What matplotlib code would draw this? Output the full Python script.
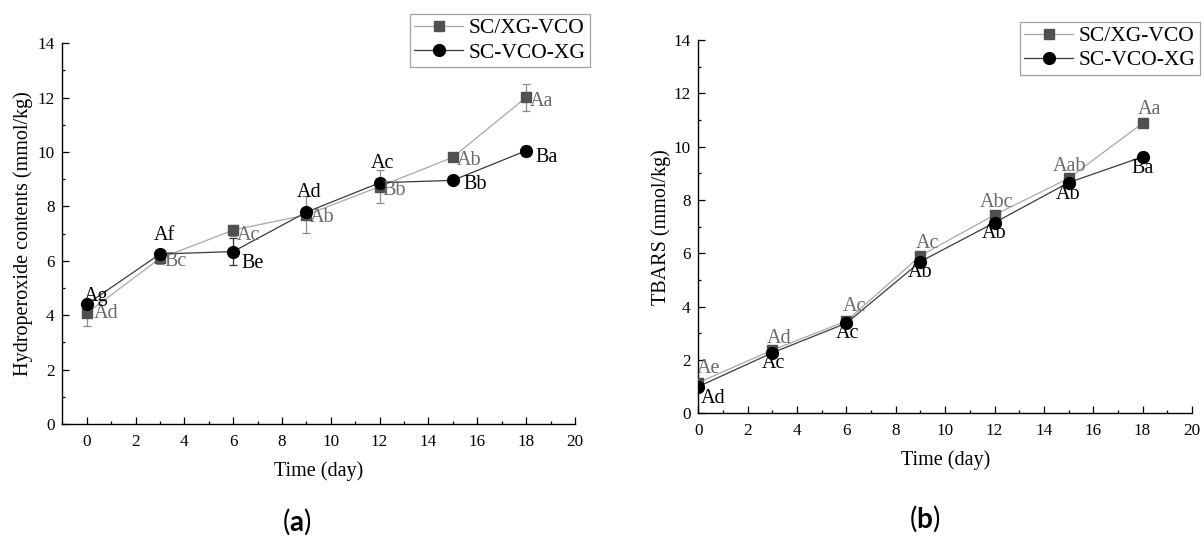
import matplotlib
matplotlib.use("Agg")
import matplotlib.pyplot as plt
from matplotlib.ticker import MultipleLocator
from matplotlib.lines import Line2D

plt.rcParams['font.family'] = ['Liberation Serif', 'DejaVu Serif']
plt.rcParams['mathtext.fontset'] = 'custom'
plt.rcParams['mathtext.bf'] = 'Lato:bold'
plt.rcParams['mathtext.rm'] = 'Lato'

# ---------------- data ----------------
days = [0, 3, 6, 9, 12, 15, 18]
series_names = ['SC/XG-VCO', 'SC-VCO-XG']

# (a) hydroperoxide contents (mmol/kg)
hp_xg_vco = [4.07, 6.09, 7.13, 7.69, 8.73, 9.81, 12.01]
hp_xg_vco_err = [0.45, 0.22, 0.20, 0.68, 0.60, 0.12, 0.50]
hp_vco_xg = [4.40, 6.25, 6.34, 7.79, 8.87, 8.96, 10.05]
hp_vco_xg_err = [0.10, 0.15, 0.50, 0.15, 0.10, 0.15, 0.18]
hp_letters_xg_vco = ['Ad', 'Bc', 'Ac', 'Ab', 'Bb', 'Ab', 'Aa']
hp_letters_vco_xg = ['Ag', 'Af', 'Be', 'Ad', 'Ac', 'Bb', 'Ba']

# (b) TBARS (mmol/kg)
tb_xg_vco = [1.15, 2.37, 3.46, 5.91, 7.44, 8.81, 10.88]
tb_vco_xg = [1.00, 2.27, 3.38, 5.69, 7.15, 8.65, 9.62]
tb_letters_xg_vco = ['Ae', 'Ad', 'Ac', 'Ac', 'Abc', 'Aab', 'Aa']
tb_letters_vco_xg = ['Ad', 'Ac', 'Ac', 'Ab', 'Ab', 'Ab', 'Ba']

# ---------------- style ----------------
GRAY_LINE = '#a8a8a8'
GRAY_MARK = '#505050'
GRAY_TEXT = '#6a6a6a'
DARK_LINE = '#3a3a3a'
LBL_FS = 14.5
PX = 72.0 / 100.0  # pixel -> point

fig = plt.figure(figsize=(12.04, 5.36), dpi=100)
axA = fig.add_axes([0.05174, 0.20896, 0.4258, 0.7103])
axB = fig.add_axes([0.5800, 0.22892, 0.4100, 0.69645])


def style_axes(ax, xlim):
    ax.set_xlim(*xlim)
    ax.set_ylim(0, 14)
    ax.spines['top'].set_visible(False)
    ax.spines['right'].set_visible(False)
    for s in ('left', 'bottom'):
        ax.spines[s].set_linewidth(1.0)
    ax.xaxis.set_major_locator(MultipleLocator(2))
    ax.xaxis.set_minor_locator(MultipleLocator(1))
    ax.yaxis.set_major_locator(MultipleLocator(2))
    ax.yaxis.set_minor_locator(MultipleLocator(1))
    ax.tick_params(which='both', direction='in', width=0.9, labelsize=12.3)
    ax.tick_params(which='major', length=5.2)
    ax.tick_params(which='minor', length=2.5)
    ax.tick_params(axis='x', pad=7)
    ax.tick_params(axis='y', pad=5.5)
    ax.set_xlabel('Time (day)', fontsize=14.5, labelpad=8)


handles = [
    Line2D([], [], color=GRAY_LINE, lw=0.9, marker='s', ms=7,
           mfc=GRAY_MARK, mec=GRAY_MARK),
    Line2D([], [], color=DARK_LINE, lw=0.9, marker='o', ms=8.5,
           mfc='black', mec='black'),
]


def legend(ax, anchor):
    leg = ax.legend(handles, series_names, loc='upper right',
                    bbox_to_anchor=anchor, bbox_transform=fig.transFigure,
                    fontsize=15.5, frameon=True, fancybox=False,
                    handlelength=2.3, handletextpad=0.25, borderpad=0.2,
                    labelspacing=0.2, borderaxespad=0.0)
    fr = leg.get_frame()
    fr.set_edgecolor('#8a8a8a')
    fr.set_linewidth(0.9)
    return leg


# ---------------- panel (a) ----------------
axA.errorbar(days, hp_xg_vco, yerr=hp_xg_vco_err, color=GRAY_LINE, lw=0.9,
             marker='s', ms=7, mfc=GRAY_MARK, mec=GRAY_MARK,
             ecolor='#8c8c8c', elinewidth=0.9, capsize=3, capthick=0.9,
             zorder=3)
axA.errorbar(days, hp_vco_xg, yerr=hp_vco_xg_err, color=DARK_LINE, lw=0.9,
             marker='o', ms=8.5, mfc='black', mec='black',
             ecolor='#303030', elinewidth=0.9, capsize=3, capthick=0.9,
             zorder=4)
style_axes(axA, (-1, 20))
axA.set_ylabel('Hydroperoxide contents (mmol/kg)', fontsize=14.5, labelpad=3)

# label offsets in pixels (dx, dy), horizontal alignment
hpA_gray_off = [(7, 0), (4, -3.5), (4, -5), (3, -3), (3, -4), (4, -3.7), (4, -4)]
hpA_black_off = [(9, 7.6, 'center'), (4, 19, 'center'), (8, -11.6, 'left'),
                 (3, 19.6, 'center'), (3, 19.4, 'center'), (10.6, -4, 'left'),
                 (9, -6.6, 'left')]
for x, y, t, (dx, dy) in zip(days, hp_xg_vco, hp_letters_xg_vco, hpA_gray_off):
    axA.annotate(t, (x, y), xytext=(dx * PX, dy * PX), textcoords='offset points',
                 ha='left', va='center', fontsize=LBL_FS, color=GRAY_TEXT, zorder=5)
for x, y, t, (dx, dy, ha) in zip(days, hp_vco_xg, hp_letters_vco_xg, hpA_black_off):
    axA.annotate(t, (x, y), xytext=(dx * PX, dy * PX), textcoords='offset points',
                 ha=ha, va='center', fontsize=LBL_FS, color='black', zorder=5)
legend(axA, (590 / 1204, 1 - 14 / 536))

# ---------------- panel (b) ----------------
axB.plot(days, tb_xg_vco, color=GRAY_LINE, lw=0.9, marker='s', ms=7,
         mfc=GRAY_MARK, mec=GRAY_MARK, zorder=3)
axB.plot(days, tb_vco_xg, color=DARK_LINE, lw=0.9, marker='o', ms=8.5,
         mfc='black', mec='black', zorder=4)
style_axes(axB, (0, 20))
axB.set_ylabel('TBARS (mmol/kg)', fontsize=14.5, labelpad=2)

tbB_gray_off = [(10, 14.4), (7, 11.7), (8, 14.3), (7.4, 12.4), (2, 12.3), (1, 12.3), (7, 14)]
tbB_black_off = [(15, -11.6), (1, -10.6), (1, -10.7), (0, -11), (0, -11.3), (0, -12.3), (0, -11.6)]
for x, y, t, (dx, dy) in zip(days, tb_xg_vco, tb_letters_xg_vco, tbB_gray_off):
    axB.annotate(t, (x, y), xytext=(dx * PX, dy * PX), textcoords='offset points',
                 ha='center', va='center', fontsize=LBL_FS, color=GRAY_TEXT, zorder=5)
for x, y, t, (dx, dy) in zip(days, tb_vco_xg, tb_letters_vco_xg, tbB_black_off):
    axB.annotate(t, (x, y), xytext=(dx * PX, dy * PX), textcoords='offset points',
                 ha='center', va='center', fontsize=LBL_FS, color='black', zorder=5)
legend(axB, (1200 / 1204, 1 - 21.7 / 536))

# panel captions
fig.text(297 / 1204, 1 - 522 / 536, r'($\mathbf{a}$)', family='Lato',
         fontsize=20, ha='center', va='center')
fig.text(925 / 1204, 1 - 519 / 536, r'($\mathbf{b}$)', family='Lato',
         fontsize=20, ha='center', va='center')

fig.savefig('out.png', dpi=100)
